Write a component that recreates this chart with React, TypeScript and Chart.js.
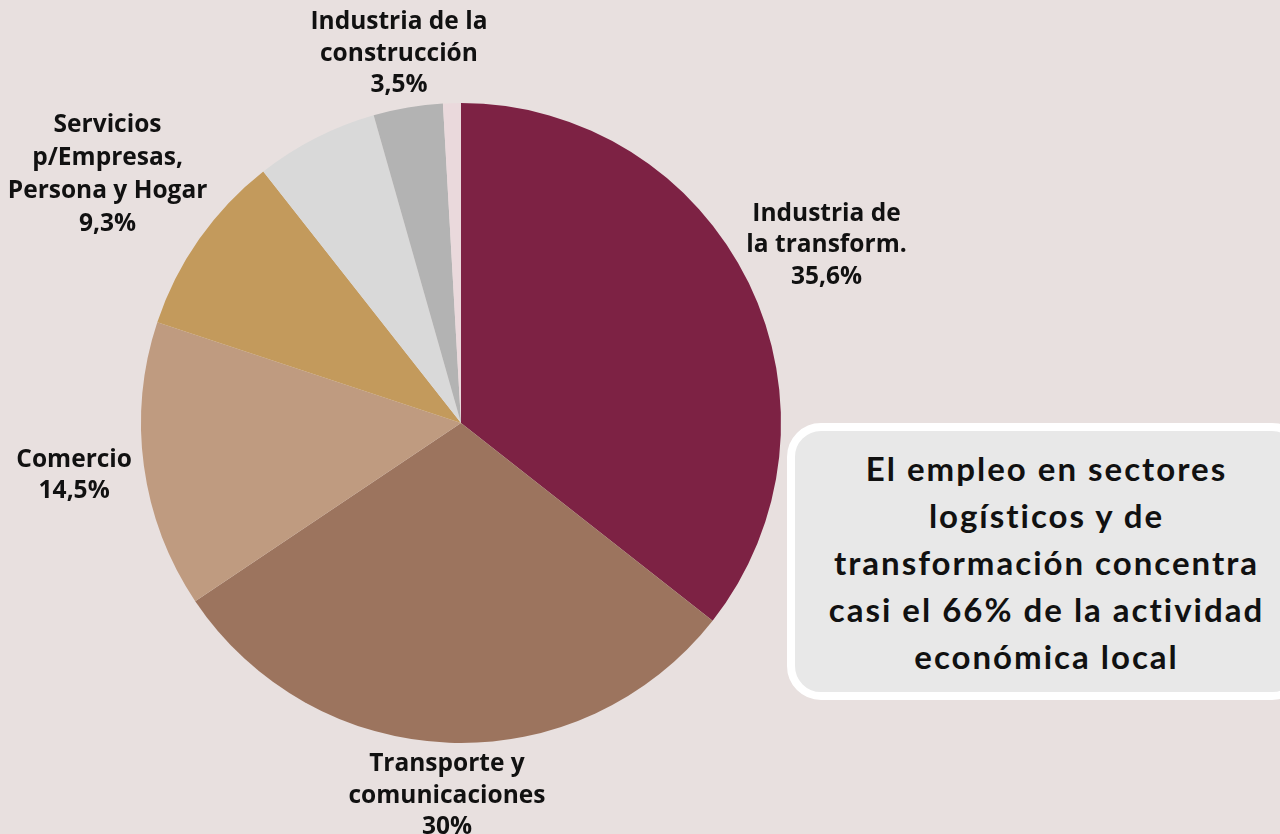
import React, { useEffect, useRef } from "react";
import { Chart, registerables } from "chart.js";

Chart.register(...registerables);

const categories = [
  ["Industria de", "la transform."],
  ["Transporte y", "comunicaciones"],
  ["Comercio"],
  ["Servicios", "p/Empresas,", "Persona y Hogar"],
  ["Otros"],
  ["Industria de la", "construcción"],
  ["Resto"],
];
const values = [35.6, 30, 14.5, 9.3, 6.2, 3.5, 0.9];
const valueLabels = ["35,6%", "30%", "14,5%", "9,3%", "", "3,5%", ""];
const showLabel = [true, true, true, true, false, true, false];
const colors = ["#7d2244", "#9c745e", "#bf9b80", "#c39a5c", "#d9d9d9", "#b3b3b3", "#ead9dc"];
// distance of label block centre from pie centre, as a multiple of radius
const labelDist = [1.27, 1.165, 1.22, 1.35, 1.2, 1.17, 1.2];

const BG = "#e8e0df";

const labelPlugin = {
  id: "outerLabels",
  afterDatasetsDraw(chart: any) {
    const ctx = chart.ctx;
    const meta = chart.getDatasetMeta(0);
    ctx.save();
    ctx.font = "bold 24.5px 'Open Sans'";
    ctx.fillStyle = "#111111";
    ctx.textAlign = "center";
    ctx.textBaseline = "middle";
    meta.data.forEach((arc: any, i: number) => {
      if (!showLabel[i]) return;
      const { x, y, startAngle, endAngle, outerRadius } = arc.getProps(
        ["x", "y", "startAngle", "endAngle", "outerRadius"],
        true
      );
      const mid = (startAngle + endAngle) / 2;
      const d = outerRadius * labelDist[i];
      const cx = x + Math.cos(mid) * d;
      const cy = y + Math.sin(mid) * d;
      const lines = [...categories[i], valueLabels[i]];
      const lh = lines.length > 3 ? 33 : 31.5;
      const top = cy - ((lines.length - 1) * lh) / 2;
      lines.forEach((t, k) => ctx.fillText(t, cx, top + k * lh));
    });
    ctx.restore();
  },
};

export default function App() {
  const ref = useRef<HTMLCanvasElement>(null);
  useEffect(() => {
    document.body.style.margin = "0";
    document.body.style.background = BG;
    const chart = new Chart(ref.current!, {
      type: "pie",
      data: {
        labels: categories.map((c) => c.join(" ")),
        datasets: [
          {
            data: values,
            backgroundColor: colors,
            borderWidth: 0,
          },
        ],
      },
      options: {
        animation: false,
        responsive: false,
        layout: { padding: { left: 141, right: 499, top: 103, bottom: 91 } },
        plugins: {
          legend: { display: false },
          tooltip: { enabled: false },
        },
      },
      plugins: [labelPlugin],
    });
    return () => chart.destroy();
  }, []);

  return (
    <div style={{ position: "relative", width: 1280, height: 834, background: BG, overflow: "hidden" }}>
      <canvas ref={ref} width={1280} height={834} style={{ position: "absolute", left: 0, top: 0 }} />
      <div
        style={{
          position: "absolute",
          left: 787,
          top: 423,
          width: 519,
          height: 277,
          boxSizing: "border-box",
          border: "8px solid #ffffff",
          borderRadius: 34,
          background: "#e8e8e8",
          display: "flex",
          alignItems: "center",
          justifyContent: "center",
          textAlign: "center",
          fontFamily: "Lato, sans-serif",
          fontWeight: 700,
          fontSize: 33,
          lineHeight: "47px",
          color: "#111111",
          letterSpacing: 2,
        }}
      >
        <div style={{ marginTop: 2 }}>
          El empleo en sectores
          <br />
          logísticos y de
          <br />
          transformación concentra
          <br />
          casi el 66% de la actividad
          <br />
          económica local
        </div>
      </div>
    </div>
  );
}
